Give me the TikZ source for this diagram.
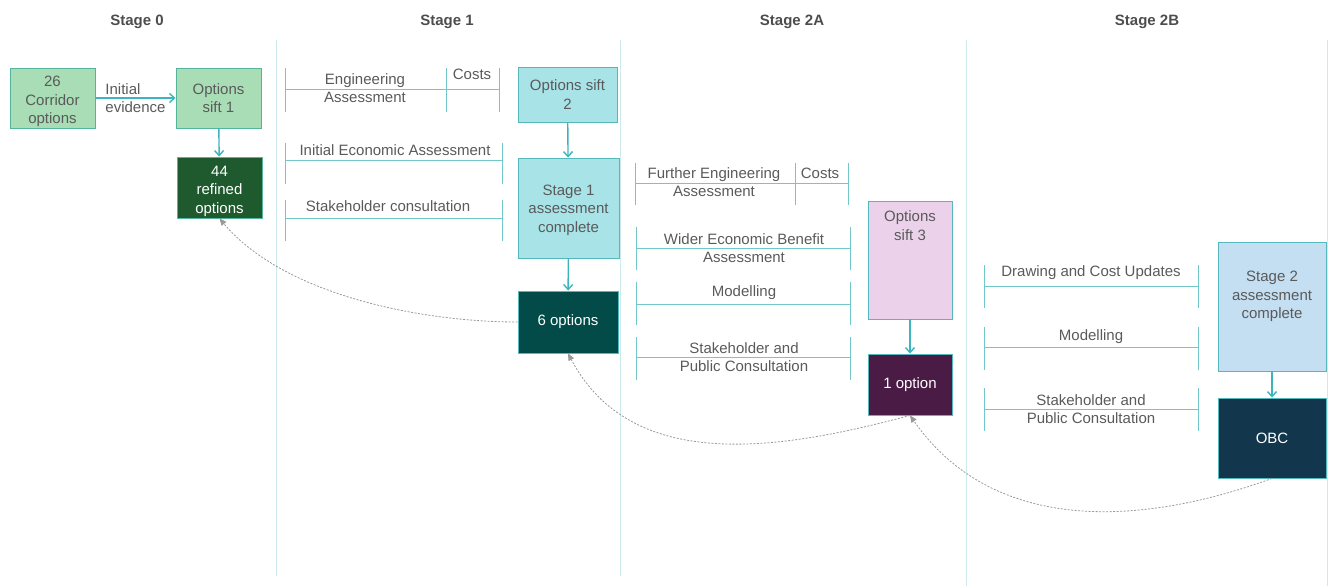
\documentclass[tikz,border=0pt]{standalone}
\usepackage{fontspec}
\setmainfont{Liberation Sans}
\usetikzlibrary{arrows.meta}
\definecolor{txtgrey}{HTML}{5A5A5A}
\definecolor{headgrey}{HTML}{4D4D4D}
\definecolor{divteal}{HTML}{CDEAEC}
\definecolor{trackteal}{HTML}{72C7CA}
\definecolor{flowteal}{HTML}{3DB5BD}
\definecolor{backgrey}{HTML}{9A9A9A}
\definecolor{boxline}{HTML}{56B8BC}
\definecolor{greenline}{HTML}{55B59C}
\definecolor{sage}{HTML}{A9DDB5}
\definecolor{forest}{HTML}{1F5A2E}
\definecolor{aqua}{HTML}{A8E3E7}
\definecolor{pine}{HTML}{024B48}
\definecolor{lilac}{HTML}{EBD2EA}
\definecolor{plum}{HTML}{4A1B45}
\definecolor{sky}{HTML}{C4DEF2}
\definecolor{navy}{HTML}{12364B}
\tikzset{
    every node/.style={font=\fontsize{15}{18.5}\selectfont, text=txtgrey,
    	align=center}
}
\tikzset{
    box/.style={draw=boxline, line width=0.9pt, inner xsep=2pt, inner ysep=0pt},
    darkbox/.style={box, text=white},
    stagehead/.style={font=\bfseries\fontsize{15}{18}\selectfont, text=headgrey},
    flow/.style={draw=flowteal, line width=1.4pt,
    	-{Straight Barb[length=5pt,width=9pt]}},
    back/.style={draw=backgrey, line width=0.8pt, dash pattern=on 2pt off 1.5pt,
    	-{Triangle[length=7pt,width=6pt,fill=backgrey]}},
    track/.style={draw=trackteal, line width=0.9pt},
    divider/.style={draw=divteal, line width=1pt}
}

\begin{document}
\begin{tikzpicture}[x=1pt,y=-1pt]
  \useasboundingbox (0,0) rectangle (1332,586);

  % stage columns
  \foreach \xd/\yd in {276/576, 620/576, 966/586, 1327/586}
    \draw[divider] (\xd,40) -- (\xd,\yd);
  \node[stagehead] (h0) at (137,22) {Stage 0};
  \node[stagehead] (h1) at (447,22) {Stage 1};
  \node[stagehead] (h2a) at (792,22) {Stage 2A};
  \node[stagehead] (h2b) at (1147,22) {Stage 2B};

  % stage 1 tracks
  \draw[track] (285,68) -- (285,112) (446,68) -- (446,112) (499,68) -- (499,112)
    (285,89) -- (499,89);
  \foreach \yt/\yl in {143/160, 200/218}
    \draw[track] (285,\yt) -- (285,\yt+41) (502,\yt) -- (502,\yt+41)
      (285,\yl) -- (502,\yl);
  \node (engass) at (365,88) {Engineering\\Assessment};
  \node (costs1) at (472,74) {Costs};
  \node (initecon) at (395,150) {Initial Economic Assessment};
  \node (stake1) at (388,206) {Stakeholder consultation};

  % stage 2A tracks
  \draw[track] (635,163) -- (635,205) (795,163) -- (795,205) (848,163) -- (848,205)
    (635,183) -- (848,183);
  \foreach \yt/\yl in {227/248, 282/304, 337/357}
    \draw[track] (636,\yt) -- (636,\yt+43) (850,\yt) -- (850,\yt+43)
      (636,\yl) -- (850,\yl);
  \node (furtheng) at (714,182) {Further Engineering\\Assessment};
  \node (costs2) at (820,173) {Costs};
  \node (widerecon) at (744,248) {Wider Economic Benefit\\Assessment};
  \node (model2a) at (744,293) {Modelling};
  \node (stake2a) at (744,357) {Stakeholder and\\Public Consultation};

  % stage 2B tracks
  \foreach \yt/\yl in {265/286, 327/347, 388/409}
    \draw[track] (984,\yt) -- (984,\yt+43) (1198,\yt) -- (1198,\yt+43)
      (984,\yl) -- (1198,\yl);
  \node (drawcost) at (1091,273) {Drawing and Cost Updates};
  \node (model2b) at (1091,337) {Modelling};
  \node (stake2b) at (1091,409) {Stakeholder and\\Public Consultation};

  % boxes
  \node[box, draw=greenline, fill=sage, minimum width=85pt, minimum height=60pt]
    (corridor) at (52.5,98) {\rule{0pt}{18pt}26\\Corridor\\options};
  \node[box, draw=greenline, fill=sage, minimum width=85pt, minimum height=60pt]
    (sift1) at (218.5,98) {Options\\sift 1};
  \node[darkbox, draw=greenline, fill=forest, minimum width=85pt, minimum height=61pt]
    (refined) at (219.5,187.5) {\rule{0pt}{18pt}44\\refined\\options};
  \node[box, fill=aqua, minimum width=99pt, minimum height=55pt]
    (sift2) at (567.5,94.5) {Options sift\\2};
  \node[box, fill=aqua, minimum width=101pt, minimum height=100pt]
    (stage1) at (568.5,208) {\rule{0pt}{15pt}Stage 1\\assessment\\complete};
  \node[darkbox, fill=pine, minimum width=100pt, minimum height=62pt]
    (six) at (568,322) {6 options};
  \node[box, fill=lilac, minimum width=84pt, minimum height=118pt,
    label={[name=sift3txt, anchor=north, yshift=-7pt]north:Options\\sift 3}]
    (sift3) at (910,260) {};
  \node[darkbox, fill=plum, minimum width=84pt, minimum height=61pt]
    (one) at (910,384.5) {1 option};
  \node[box, fill=sky, minimum width=108pt, minimum height=129pt,
    label={[name=stage2txt, anchor=north, yshift=-26pt]north:Stage 2\\assessment\\complete}]
    (stage2) at (1272,306.5) {};
  \node[darkbox, fill=navy, minimum width=108pt, minimum height=80pt]
    (obc) at (1272,438) {OBC};

  % flow
  \draw[flow] (corridor) -- node[midway, align=left] (evid) {Initial\\evidence} (sift1);
  \draw[flow] (sift1) -- (refined);
  \draw[flow] (sift2) -- (stage1);
  \draw[flow] (stage1) -- (six);
  \draw[flow] (sift3) -- (one);
  \draw[flow] (stage2) -- (obc);

  % feedback
  \draw[back] (six.west) to[out=180, in=-50, looseness=0.8] (refined.south);
  \draw[back] (one.south) to[out=195, in=-62] (six.south);
  \draw[back] (obc.south) to[out=200, in=-55] (one.south);
\end{tikzpicture}
\end{document}
